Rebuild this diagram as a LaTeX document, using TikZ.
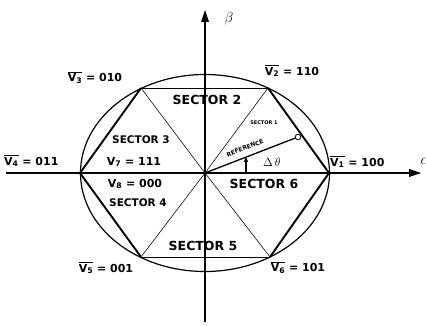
\documentclass[tikz,border=0pt]{standalone}
\usepackage{fontspec}
\setmainfont{DejaVu Sans}
\usetikzlibrary{arrows.meta}
\tikzset{
  thickedge/.style={line width=1.9pt},
  thinedge/.style={line width=0.7pt},
  axisline/.style={line width=1.5pt},
  axistip/.style={fill=black, draw=none},
  seclabel/.style={font=\bfseries\fontsize{12.5}{13}\selectfont, inner sep=0pt},
  smallsec/.style={font=\bfseries\fontsize{10.5}{11}\selectfont, inner sep=0pt},
  vlabel/.style={font=\bfseries\fontsize{11}{12}\selectfont, inner sep=0pt},
}
\newcommand\vbar[1]{$\overline{\mbox{V\textsubscript{#1}}}$}
\begin{document}
\begin{tikzpicture}[x=1pt,y=-1pt]
\useasboundingbox (0,0) rectangle (426,326);
\coordinate (O) at (205,173);
\coordinate (V1) at (329,173);
\coordinate (V2) at (268,88);
\coordinate (V3) at (141,88);
\coordinate (V4) at (80,173);
\coordinate (V5) at (141,257);
\coordinate (V6) at (270,257);
\coordinate (L) at (6,173);
\coordinate (R) at (421,173);
\coordinate (B) at (205,322);
\coordinate (T) at (205,10);
\coordinate (REF) at (298,137);
\coordinate (DA) at (246,173);
\coordinate (DB) at (246,157);
% ellipse
\draw[line width=1.2pt] (O) ellipse [x radius=124.5, y radius=98.5];
% axes
\draw[axisline] (L) -- ([xshift=-8pt]R);
\draw[axisline] (B) -- ([yshift=-8pt]T);
\fill[axistip] (R) -- ++(-12,-4) -- ++(0,8) -- cycle;
\fill[axistip] (T) -- ++(-4,12) -- ++(8,0) -- cycle;
% hexagon
\draw[thickedge] (V2) -- (V1) -- (V6);
\draw[thickedge] (V3) -- (V4) -- (V5);
\draw[thinedge] (V3) -- (V2);
\draw[line width=1pt] (V5) -- (V6);
% spokes
\draw[line width=0.55pt] (V2) -- (O) -- (V5);
\draw[line width=0.55pt] (V3) -- (O) -- (V6);
% reference vector
\draw[line width=1.3pt] (O) -- (REF);
\draw[line width=0.8pt, fill=white] (REF) circle [radius=2.8];
\draw[line width=1.3pt] (DA) -- ([yshift=-3pt]DB);
\fill[axistip] (DB) -- ++(-2.2,5) -- ++(4.4,0) -- cycle;
% labels
\node[font=\fontsize{14}{14}\selectfont] (beta) at (229,19) {$\beta$};
\node[font=\fontsize{14}{14}\selectfont,anchor=west] (alpha) at (417,161) {$\alpha$};
\node[vlabel] (l3) at (95,78) {\vbar{3} = 010};
\node[vlabel] (l2) at (292,71) {\vbar{2} = 110};
\node[vlabel,anchor=west] (l1) at (330,162) {\vbar{1} = 100};
\node[vlabel,anchor=west] (l4) at (4,161) {\vbar{4} = 011};
\node[vlabel] (l7) at (134,162) {V\textsubscript{7} = 111};
\node[vlabel] (l8) at (135,184) {V\textsubscript{8} = 000};
\node[vlabel] (l5) at (106,268) {\vbar{5} = 001};
\node[vlabel] (l6) at (298,268) {\vbar{6} = 101};
\node[seclabel] (s2) at (207,100) {SECTOR 2};
\node[smallsec] (s3) at (141,140) {SECTOR 3};
\node[smallsec] (s4) at (138,203) {SECTOR 4};
\node[seclabel] (s5) at (203,246) {SECTOR 5};
\node[seclabel] (s6) at (264,184) {SECTOR 6};
\node[font=\bfseries\fontsize{5}{6}\selectfont, inner sep=0pt] (s1) at (264,123) {SECTOR 1};
\node[font=\bfseries\fontsize{6}{7}\selectfont, inner sep=0pt, rotate=21] (ref) at (245,148) {REFERENCE};
\node[font=\fontsize{13}{13}\selectfont] (dt) at (272,162) {$\Delta\,\theta$};
\end{tikzpicture}
\end{document}
